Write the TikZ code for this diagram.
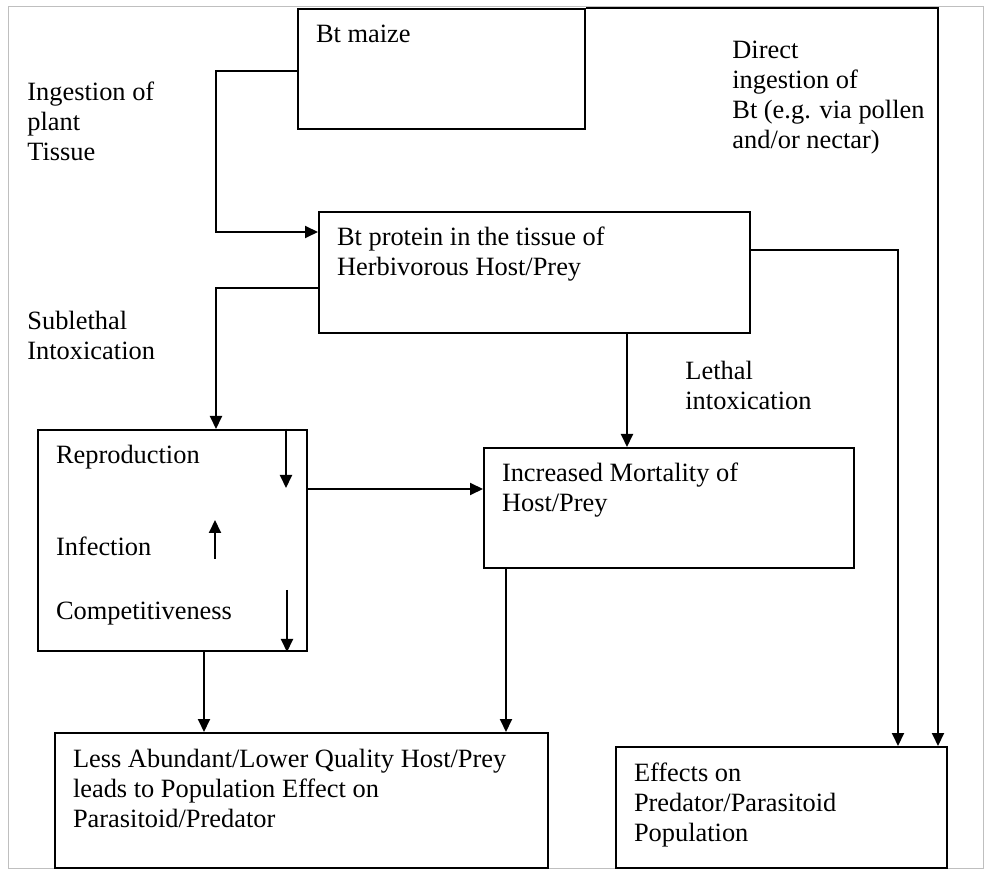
\documentclass[tikz,border=0pt]{standalone}
\usepackage{fontspec}
\setmainfont{Liberation Serif}
\usetikzlibrary{calc,arrows.meta}
\tikzset{
	box/.style={draw, line width=1pt, anchor=north west, inner xsep=9pt, inner ysep=0pt},
	lbl/.style={anchor=base west, inner sep=0pt},
	arr/.style={line width=1pt, -{Triangle[length=6.5pt,width=6pt]}},
}
\def\flowbox(#1)(#2,#3)(#4,#5)#6{\node[box] (#1) at (#2,#3) {\parbox[c][\dimexpr#5pt/2\relax][t]{\dimexpr#4pt/2-18pt\relax}{\raggedright\rule{0pt}{17pt}#6}};}
\def\flowlabel(#1)(#2,#3)#4{\node[lbl] (#1) at (#2,#3) {\parbox[t]{4.5cm}{\raggedright#4}};}

\begin{document}
\begin{tikzpicture}[x=0.5pt, y=-0.5pt, font=\fontsize{13.2}{15}\selectfont]
			%%%%% START %%%%%
			\useasboundingbox (0,0) rectangle (986,871);
			\draw[gray!50, line width=0.5pt] (8,7) rectangle (983,868);
			
			\flowbox(maize)(297,8)(287,120){Bt maize}
			\flowbox(protein)(318,211)(431,121){Bt protein in the tissue of\\Herbivorous Host/Prey}
			\flowbox(repro)(37,429)(269,221){Reproduction\\[31pt]Infection\\[16.5pt]Competitiveness}
			\flowbox(mort)(483,447)(370,120){Increased Mortality of\\Host/Prey}
			\flowbox(less)(54,732)(493,135){Less Abundant/Lower Quality Host/Prey\\leads to Population Effect on\\Parasitoid/Predator}
			\flowbox(effects)(615,746)(331,121){Effects on\\Predator/Parasitoid\\Population}
			
			\flowlabel(ingest)(27,101){Ingestion of\\plant\\Tissue}
			\flowlabel(sublethal)(27,330){Sublethal\\Intoxication}
			\flowlabel(direct)(732,59){Direct\\ingestion of\\Bt (e.g. via pollen\\and/or nectar)}
			\flowlabel(lethal)(685,380){Lethal\\intoxication}
			
			\draw[arr] ($(maize.north west)+(0,63)$) -- ++(-81,0) |- ($(protein.north west)+(0,21)$);
			\draw[arr] (maize.north east) -| ($(effects.north east)+(-10,0)$);
			\draw[arr] ($(protein.north east)+(0,39)$) -| ($(effects.north east)+(-50,0)$);
			\draw[arr] ($(protein.north west)+(0,77)$) -| ($(repro.north west)+(179,0)$);
			\draw[arr] ($(protein.south west)+(309,0)$) -- ($(mort.north west)+(144,0)$);
			\draw[arr] ($(repro.north east)+(0,60)$) -- ($(mort.north west)+(0,42)$);
			\draw[arr] ($(repro.south west)+(167,0)$) -- ($(less.north west)+(150,0)$);
			\draw[arr] ($(mort.south west)+(23,0)$) -- ($(less.north west)+(452,0)$);
			
			\draw[arr] ($(repro.north west)+(249,0)$) -- ($(repro.north west)+(249,59)$);
			\draw[arr] ($(repro.north west)+(178,130)$) -- ($(repro.north west)+(178,91)$);
			\draw[arr] ($(repro.north west)+(250,161)$) -- ($(repro.south west)+(250,0)$);
			%%%%% END %%%%%
\end{tikzpicture}
\end{document}
